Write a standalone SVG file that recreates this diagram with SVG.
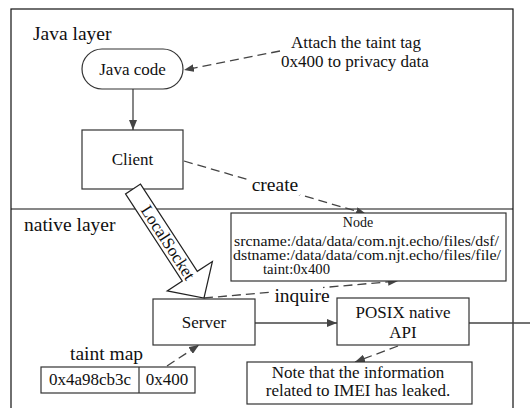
<svg xmlns="http://www.w3.org/2000/svg" width="530" height="408" viewBox="0 0 530 408" font-family="'Liberation Serif', 'DejaVu Serif', serif">
<defs>
<marker id="ah" viewBox="0 0 10 8" refX="10" refY="4" markerWidth="10" markerHeight="8" markerUnits="userSpaceOnUse" orient="auto">
<path d="M0,0 L10,4 L0,8 Z" fill="#444"/>
</marker>
</defs>
<style>
text{font-family:'Liberation Serif','DejaVu Serif',serif;fill:#111}
.t17{font-size:17px}
.t19{font-size:19.5px}
.t14{font-size:14px}
.box{fill:#fff;stroke:#333;stroke-width:1.2}
.frame{fill:none;stroke:#111;stroke-width:1.2}
.solid{fill:none;stroke:#444;stroke-width:1.3}
.dash{fill:none;stroke:#444;stroke-width:1.3;stroke-dasharray:9,5}
.c{text-anchor:middle}
</style>
<rect class="frame" x="11" y="9" width="502" height="420"/>
<line class="frame" x1="11" y1="209" x2="513" y2="209"/>
<text class="t19" x="33" y="40">Java layer</text>
<text class="t19" x="24" y="231">native layer</text>

<g id="connectors">
<line class="solid" x1="133" y1="89" x2="133" y2="130" marker-end="url(#ah)"/>
<line class="dash" x1="280" y1="51" x2="184" y2="70" marker-end="url(#ah)"/>
<line class="dash" x1="184" y1="161" x2="366" y2="214" marker-end="url(#ah)"/>
<line class="dash" x1="204" y1="298" x2="398" y2="281" marker-end="url(#ah)"/>
<line class="solid" x1="255" y1="323" x2="337" y2="323" marker-end="url(#ah)"/>
<line class="solid" x1="469" y1="323" x2="530" y2="323"/>
<line class="dash" x1="167" y1="366" x2="199" y2="345" marker-end="url(#ah)"/>
<line class="dash" x1="398" y1="346" x2="355" y2="362" marker-end="url(#ah)"/>
<rect x="250" y="177" width="50" height="18" fill="#fff"/>
<text class="t19" x="275" y="191" text-anchor="middle">create</text>
<rect x="272" y="285" width="51" height="22" fill="#fff"/>
<text class="t19" x="302" y="302" text-anchor="middle">inquire</text>
</g>

<g id="attach">
<text class="t17 c" x="356" y="48">Attach the taint tag</text>
<text class="t17 c" x="355" y="67">0x400 to privacy data</text>
</g>

<g id="javacode">
<rect class="box" x="82" y="49" width="101" height="40" rx="20" ry="20"/>
<text class="t17 c" x="132.5" y="75">Java code</text>
</g>

<g id="client">
<rect class="box" x="82" y="130" width="101" height="59"/>
<text class="t17 c" x="132.5" y="165">Client</text>
</g>

<g id="localsocket">
<polygon points="140.5,184.1 197.3,271.3 212.4,261.5 204,298 167.2,290.9 182.3,281.1 125.5,193.9" fill="#fff" stroke="#222" stroke-width="1.2"/>
<text class="t17 c" transform="translate(167.5,243) rotate(57)" x="0" y="5">LocalSocket</text>
</g>

<g id="node">
<rect class="box" x="231" y="213" width="275" height="68"/>
<text class="t14 c" x="358" y="227">Node</text>
<text class="t14" x="234" y="246" textLength="265" lengthAdjust="spacingAndGlyphs">srcname:/data/data/com.njt.echo/files/dsf/</text>
<text class="t14" x="233" y="260" textLength="268" lengthAdjust="spacingAndGlyphs">dstname:/data/data/com.njt.echo/files/file/</text>
<text class="t14" x="263" y="274" textLength="67" lengthAdjust="spacingAndGlyphs">taint:0x400</text>
</g>

<g id="server">
<rect class="box" x="153" y="299" width="102" height="46"/>
<text class="t17 c" x="204" y="328">Server</text>
</g>

<g id="posix">
<rect class="box" x="337" y="298" width="132" height="47"/>
<text class="t17 c" x="403" y="318">POSIX native</text>
<text class="t17 c" x="403" y="338">API</text>
</g>

<g id="note">
<rect class="box" x="247" y="362" width="225" height="42"/>
<text class="t17 c" x="358" y="378">Note that the information</text>
<text class="t17 c" x="358" y="396">related to IMEI has leaked.</text>
</g>

<g id="taintmap">
<text class="t19" x="70" y="360">taint map</text>
<rect class="box" x="41" y="367" width="154" height="26"/>
<line x1="139" y1="367" x2="139" y2="393" stroke="#333" stroke-width="1.2"/>
<text class="t17 c" x="90" y="385">0x4a98cb3c</text>
<text class="t17 c" x="167" y="385">0x400</text>
</g>
</svg>
